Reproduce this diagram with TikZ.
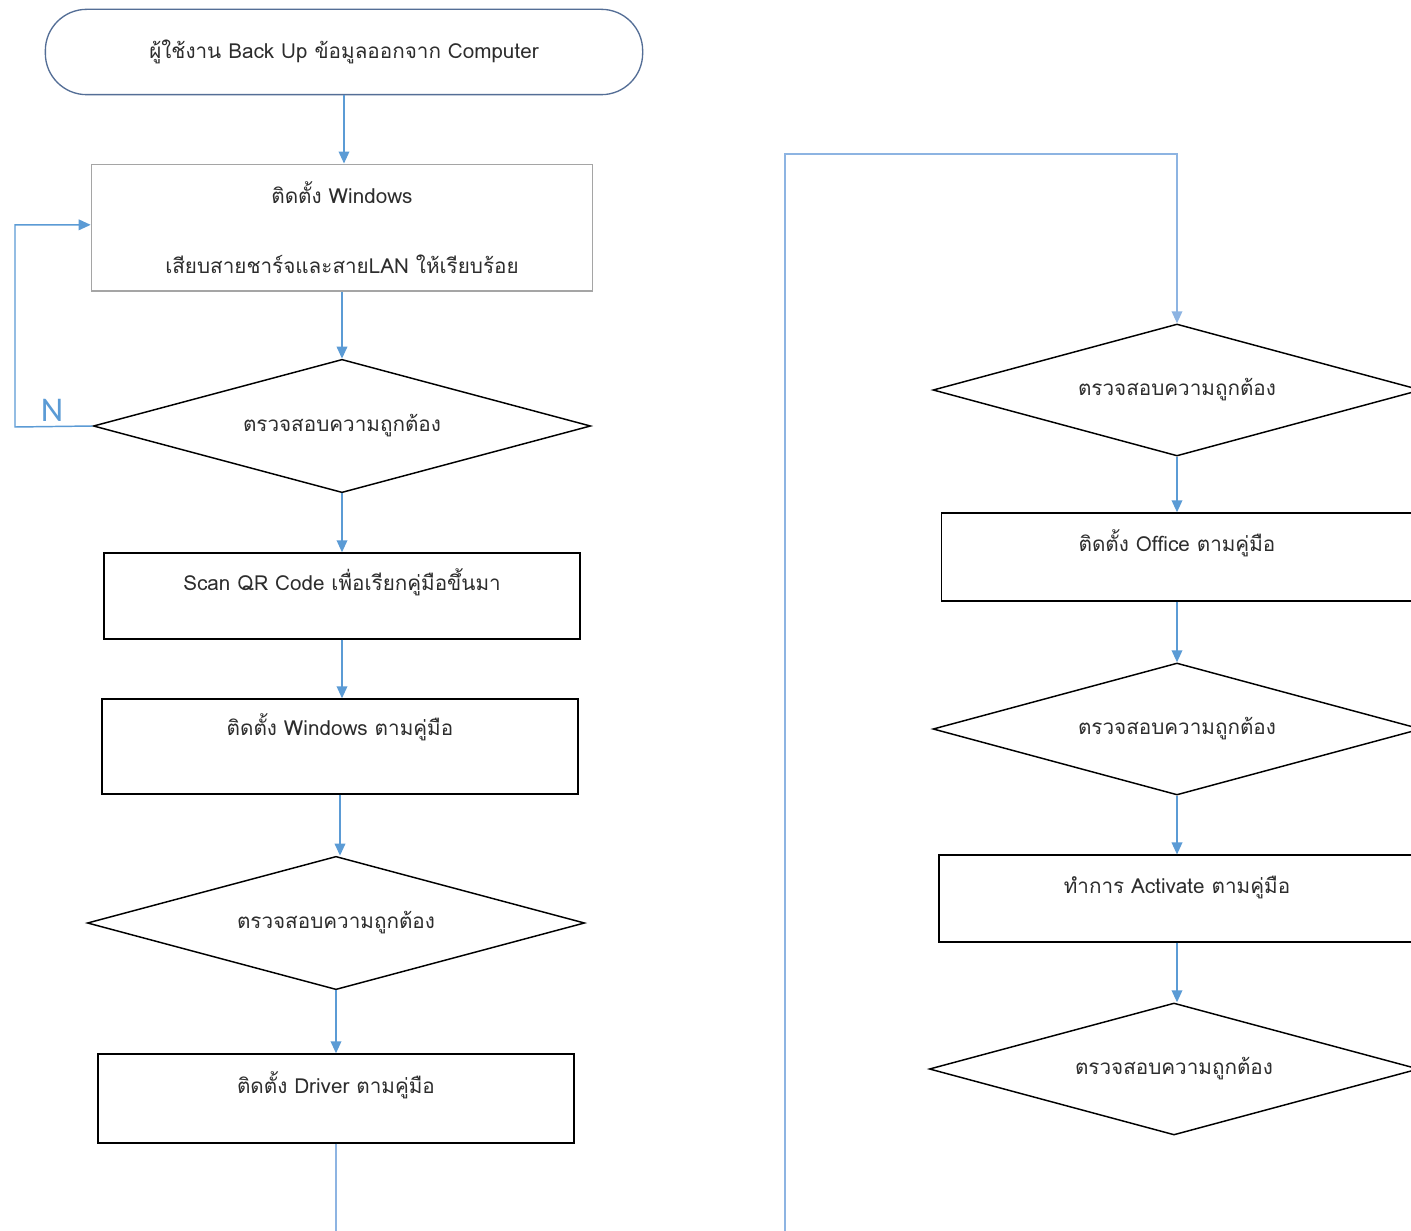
\documentclass[tikz,border=0pt]{standalone}
\usepackage{fontspec}
\setmainfont[Script=Thai]{Loma}
\newfontfamily\tagfont{Carlito}
\usetikzlibrary{positioning,arrows.meta,shapes.geometric}
\definecolor{fcFlow}{RGB}{91,155,213}
\definecolor{fcLoop}{RGB}{141,180,226}
\definecolor{fcEdge}{RGB}{84,110,150}
\definecolor{fcGray}{RGB}{165,165,165}
\definecolor{fcInk}{RGB}{45,45,45}
\tikzset{
    base/.style={font=\fontsize{15.5}{18}\selectfont, align=center, text=fcInk},
    terminal/.style={base, rectangle, rounded corners=31pt, draw=fcEdge, line width=1pt,
                     minimum width=448pt, minimum height=64pt},
    setup/.style={base, rectangle, draw=fcGray, line width=1pt,
                  minimum width=376pt, minimum height=95pt},
    process/.style={base, rectangle, draw=black, line width=1.1pt, minimum width=357pt,
                    minimum height=66pt, text height=12pt, text depth=20pt},
    decision/.style={base, diamond, draw=black, line width=1.1pt, aspect=3.7,
                     minimum width=373pt, minimum height=100pt},
    flow/.style={-{Triangle[width=8pt,length=9pt]}, color=fcFlow, line width=1.1pt},
    loop/.style={color=fcLoop, line width=1.1pt},
    tag/.style={font=\tagfont\fontsize{26}{28}\selectfont, text=fcFlow}
}

\begin{document}
\begin{tikzpicture}[x=0.75pt, y=-0.75pt]
  \fill[white] (0,0) rectangle (1411,1231);
  \useasboundingbox (0,0) rectangle (1411,1231);

  % Left column: Windows
  \node[terminal] (start) at (344,52) {ผู้ใช้งาน Back Up ข้อมูลออกจาก Computer};
  \node[setup] (winbox) at (342,227.5) {ติดตั้ง Windows\\[34pt]เสียบสายชาร์จและสายLAN ให้เรียบร้อย};
  \node[decision] (chkA) at (342,426) {ตรวจสอบความถูกต้อง};
  \node[process, minimum height=64.5pt] (scan) at (342,596) {Scan QR Code เพื่อเรียกคู่มือขึ้นมา};
  \node[process, minimum height=71.25pt, text depth=28pt] (winman) at (340,746.5) {ติดตั้ง Windows ตามคู่มือ};
  \node[decision] (chkB) at (336,923) {ตรวจสอบความถูกต้อง};
  \node[process, minimum height=66.75pt] (driver) at (336,1098.5) {ติดตั้ง Driver ตามคู่มือ};
  \node[tag] (nLab) at (52,410) {N};

  \draw[flow] (start.south) -- (start.south |- winbox.north);
  \draw[flow] (winbox.south) -- (winbox.south |- chkA.north);
  \draw[flow] (chkA.south) -- (chkA.south |- scan.north);
  \draw[flow] (scan.south) -- (scan.south |- winman.north);
  \draw[flow] (winman.south) -- (winman.south |- chkB.north);
  \draw[flow] (chkB.south) -- (chkB.south |- driver.north);
  \coordinate (nTurn) at (15,427);
  \draw[flow] (chkA.west) -- (nTurn) |- ([yshift=2pt]winbox.west);
  \coordinate (driverOut) at (336,1240);
  \draw[loop] (driver.south) -- (driverOut);

  % Right column: Office
  \node[decision, minimum width=366pt, minimum height=99pt] (chkC) at (1177,390) {ตรวจสอบความถูกต้อง};
  \node[process, minimum width=353pt] (office) at (1177,557) {ติดตั้ง Office ตามคู่มือ};
  \node[decision, minimum width=366pt, minimum height=99pt] (chkD) at (1177,729) {ตรวจสอบความถูกต้อง};
  \node[process, minimum height=65pt] (act) at (1177,898.5) {ทำการ Activate ตามคู่มือ};
  \node[decision, minimum width=367pt, minimum height=99pt] (chkE) at (1174,1069) {ตรวจสอบความถูกต้อง};

  \coordinate (loopIn) at (785,1240);
  \coordinate (loopTop) at (785,154);
  \draw[loop, -{Triangle[width=8pt,length=9pt]}] (loopIn) -- (loopTop) -| (chkC.north);
  \draw[flow] (chkC.south) -- (chkC.south |- office.north);
  \draw[flow] (office.south) -- (office.south |- chkD.north);
  \draw[flow] (chkD.south) -- (chkD.south |- act.north);
  \draw[flow] (act.south) -- (act.south |- chkE.north);
\end{tikzpicture}
\end{document}
